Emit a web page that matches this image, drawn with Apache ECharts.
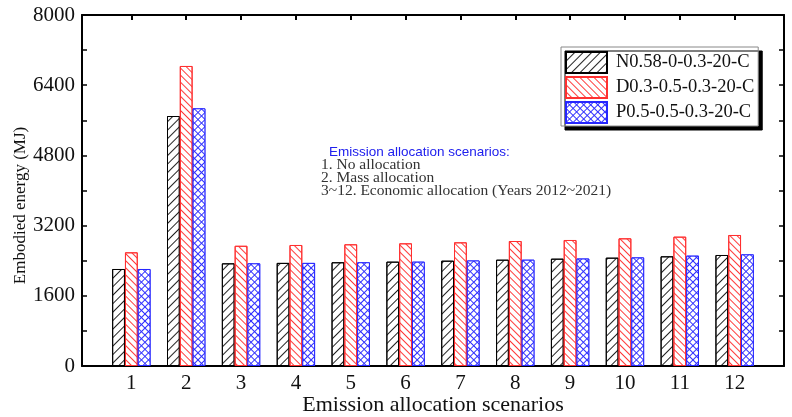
<!DOCTYPE html>
<html>
<head>
<meta charset="utf-8">
<script src="https://cdn.jsdelivr.net/npm/echarts@6/dist/echarts.min.js"></script>
<style>html,body{margin:0;padding:0;background:#fff}#c{width:792px;height:417px}</style>
</head>
<body>
<div id="c"></div>
<script>
const scenarios = [1, 2, 3, 4, 5, 6, 7, 8, 9, 10, 11, 12];
const seriesNames = ['N0.58-0-0.3-20-C', 'D0.3-0.5-0.3-20-C', 'P0.5-0.5-0.3-20-C'];
const valuesN = [2211, 5698, 2340, 2350, 2364, 2378, 2400, 2423, 2446, 2469, 2500, 2530];
const valuesD = [2591, 6838, 2740, 2758, 2774, 2796, 2819, 2849, 2872, 2910, 2948, 2986];
const valuesP = [2211, 5873, 2340, 2350, 2364, 2378, 2405, 2423, 2450, 2475, 2515, 2545];
const yTicks = [0, 1600, 3200, 4800, 6400, 8000];
const noteTitle = 'Emission allocation scenarios:';
const noteLines = ['1. No allocation', '2. Mass allocation', '3~12. Economic allocation (Years 2012~2021)'];

const serif = "'Liberation Serif', 'Times New Roman', serif";
const chart = echarts.init(document.getElementById('c'), null, {renderer: 'canvas'});

function pairs(vals) { return scenarios.map((c, i) => [c, vals[i]]); }

const lineDecal = (color, rot, gap) => ({
  symbol: 'rect', symbolSize: 1, color: color,
  dashArrayX: [10, 0], dashArrayY: [1, gap], rotation: rot
});

const styles = [
  {border: '#000000', decal: lineDecal('#222222', -Math.PI / 4, 5)},
  {border: '#ff3030', decal: lineDecal('#ff3a3a', Math.PI / 4, 4)},
  {border: '#2626ff', decal: {symbol: 'rect', symbolSize: 1, color: '#ffffff', backgroundColor: '#3030ff',
    dashArrayX: [4, 1], dashArrayY: [4, 1], rotation: Math.PI / 4}}
];
const allValues = [valuesN, valuesD, valuesP];

const xCommon = {
  type: 'value', min: 0.1, max: 12.9,
  axisLine: {show: true, onZero: false, lineStyle: {color: '#000', width: 2}},
  axisTick: {show: true, inside: true, length: 5, customValues: scenarios, lineStyle: {color: '#000', width: 2}},
  splitLine: {show: false}
};
const yCommon = {
  type: 'value', min: 0, max: 8000, interval: 1600,
  axisLine: {show: true, onZero: false, lineStyle: {color: '#000', width: 2}},
  axisTick: {show: true, inside: true, length: 5, lineStyle: {color: '#000', width: 1.5}},
  minorTick: {show: true, splitNumber: 2, length: 5, lineStyle: {color: '#000', width: 1.5}},
  splitLine: {show: false}, minorSplitLine: {show: false}
};

chart.setOption({
  animation: false,
  backgroundColor: '#ffffff',
  grid: {left: 82, right: 8, top: 15, bottom: 51, containLabel: false, outerBoundsMode: 'none'},
  title: {
    left: 321, top: 146, padding: 0,
    text: '{a|' + noteTitle + '}\n' + noteLines.map(l => '{b|' + l + '}').join('\n'),
    textStyle: {
      fontWeight: 'normal',
      rich: {
        a: {fontFamily: "'Liberation Sans', Arial, sans-serif", fontSize: 13.5, fontWeight: 'normal', color: '#2020ee',
          lineHeight: 13, padding: [0, 0, 0, 8]},
        b: {fontFamily: serif, fontSize: 15.5, fontWeight: 'normal', color: '#333', lineHeight: 12.8}
      }
    }
  },
  legend: {
    orient: 'vertical', left: 561, top: 47,
    padding: [4, 4, 2, 4], itemGap: 2, itemWidth: 41, itemHeight: 21, icon: 'rect',
    backgroundColor: '#fff', borderColor: '#888', borderWidth: 1,
    shadowColor: '#000', shadowBlur: 0, shadowOffsetX: 4, shadowOffsetY: 4,
    data: seriesNames,
    textStyle: {fontFamily: serif, fontSize: 18.5, color: '#111', padding: [0, 0, 0, 4]}
  },
  xAxis: [
    Object.assign({}, xCommon, {
      position: 'bottom',
      name: 'Emission allocation scenarios', nameLocation: 'middle', nameGap: 28, nameMoveOverlap: false,
      nameTextStyle: {fontFamily: serif, fontSize: 22, color: '#111'},
      axisLabel: {show: true, customValues: scenarios, margin: 7, fontFamily: serif, fontSize: 21, color: '#111',
        formatter: v => String(v)}
    }),
    Object.assign({}, xCommon, {position: 'top', axisLabel: {show: false}})
  ],
  yAxis: [
    Object.assign({}, yCommon, {
      position: 'left',
      name: 'Embodied energy (MJ)', nameLocation: 'middle', nameGap: 53, nameMoveOverlap: false,
      nameTextStyle: {fontFamily: serif, fontSize: 17, color: '#111', padding: [0, 30, 0, 0]},
      axisLabel: {show: true, margin: 7, fontFamily: serif, fontSize: 21, color: '#111',
        customValues: yTicks, formatter: v => String(v)}
    }),
    Object.assign({}, yCommon, {position: 'right', axisLabel: {show: false}})
  ],
  series: seriesNames.map((name, k) => ({
    name: name, type: 'bar', xAxisIndex: 0, yAxisIndex: 0,
    barWidth: 12.8, barGap: '0%',
    data: pairs(allValues[k]),
    itemStyle: {color: '#ffffff', borderColor: styles[k].border, borderWidth: 1, decal: styles[k].decal}
  }))
});
</script>
</body>
</html>
